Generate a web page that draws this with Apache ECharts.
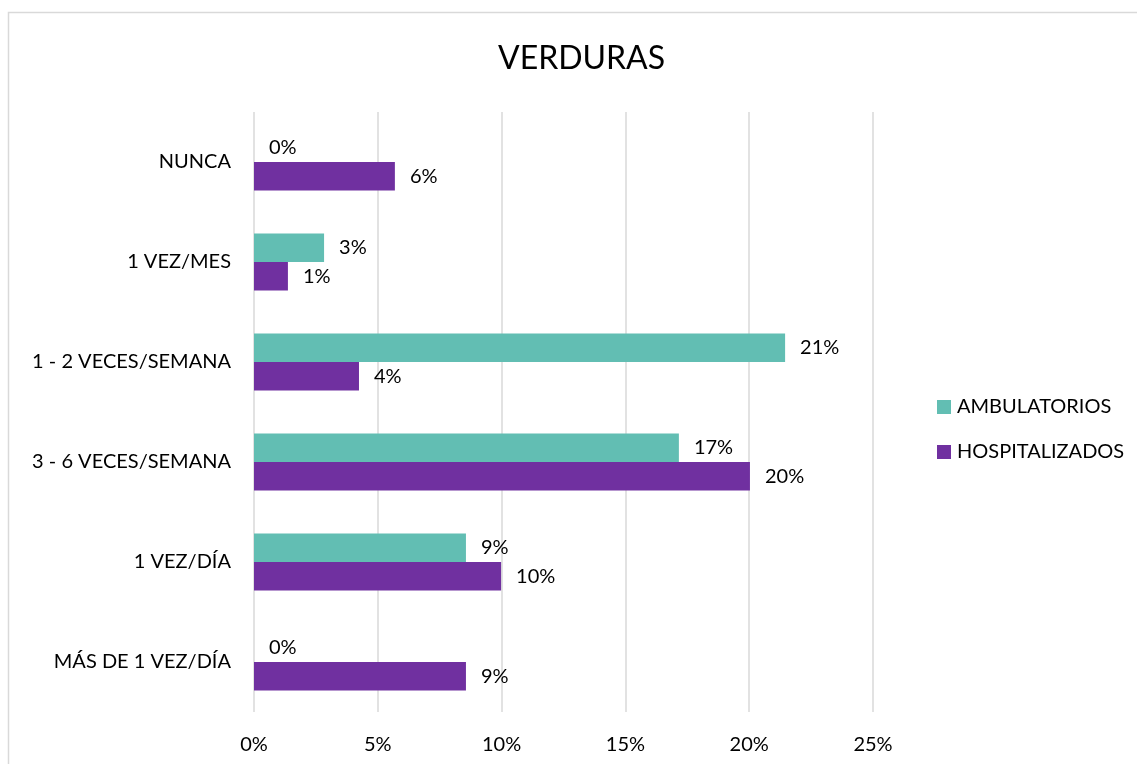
<!DOCTYPE html>
<html>
<head>
<meta charset="utf-8">
<script src="https://cdn.jsdelivr.net/npm/echarts@6/dist/echarts.min.js"></script>
<style>
  html, body { margin: 0; padding: 0; background: #fff; }
  #chart { width: 1137px; height: 764px; }
</style>
</head>
<body>
<div id="chart"></div>
<script>
// Frecuencia de consumo de verduras (% de pacientes)
const categories = ['NUNCA', '1 VEZ/MES', '1 - 2 VECES/SEMANA', '3 - 6 VECES/SEMANA', '1 VEZ/DÍA', 'MÁS DE 1 VEZ/DÍA'];
const ambulatorios = [0, 2.83, 21.45, 17.16, 8.56, 0];
const hospitalizados = [5.69, 1.37, 4.24, 20.03, 9.98, 8.56];
const xTicks = [0, 5, 10, 15, 20, 25];

const FONT = 'Lato';
const FS = 20;
const chart = echarts.init(document.getElementById('chart'), null, { renderer: 'canvas' });

const labelOpt = {
  show: true,
  position: 'right',
  distance: 15,
  color: '#000',
  fontFamily: FONT,
  fontSize: FS,
  formatter: p => Math.round(p.value) + '%'
};

chart.setOption({
  animation: false,
  backgroundColor: '#fff',
  textStyle: { fontFamily: FONT },
  graphic: [{
    type: 'rect',
    shape: { x: 8.5, y: 12.5, width: 1200, height: 800 },
    style: { fill: 'none', stroke: '#d9d9d9', lineWidth: 1.5 },
    silent: true
  }],
  title: {
    text: 'VERDURAS',
    left: 493,
    top: 38,
    textStyle: { fontFamily: FONT, fontSize: 32, fontWeight: 'normal', color: '#000' }
  },
  legend: {
    orient: 'vertical',
    left: 932,
    top: 392,
    itemWidth: 14,
    itemHeight: 14,
    itemGap: 25,
    icon: 'rect',
    data: ['AMBULATORIOS', 'HOSPITALIZADOS'],
    textStyle: { fontFamily: FONT, fontSize: FS, color: '#000', padding: [0, 0, 0, 1] }
  },
  grid: { left: 254, right: 264, top: 112, bottom: 52, containLabel: false },
  xAxis: {
    type: 'value',
    min: xTicks[0],
    max: xTicks[xTicks.length - 1],
    interval: 5,
    axisLine: { show: false },
    axisTick: { show: false },
    splitLine: { lineStyle: { color: '#d9d9d9', width: 1.5 } },
    axisLabel: {
      margin: 23,
      color: '#000',
      fontFamily: FONT,
      fontSize: FS,
      formatter: v => v + '%'
    }
  },
  yAxis: {
    type: 'category',
    inverse: true,
    data: categories,
    axisLine: { show: false },
    axisTick: { show: false },
    axisLabel: { margin: 23, color: '#000', fontFamily: FONT, fontSize: FS }
  },
  series: [
    {
      name: 'AMBULATORIOS',
      type: 'bar',
      data: ambulatorios,
      barWidth: 28.5,
      barGap: '0%',
      itemStyle: { color: '#62BEB3' },
      label: labelOpt
    },
    {
      name: 'HOSPITALIZADOS',
      type: 'bar',
      data: hospitalizados,
      barWidth: 28.5,
      barGap: '0%',
      itemStyle: { color: '#7030A0' },
      label: labelOpt
    }
  ]
});
</script>
</body>
</html>
